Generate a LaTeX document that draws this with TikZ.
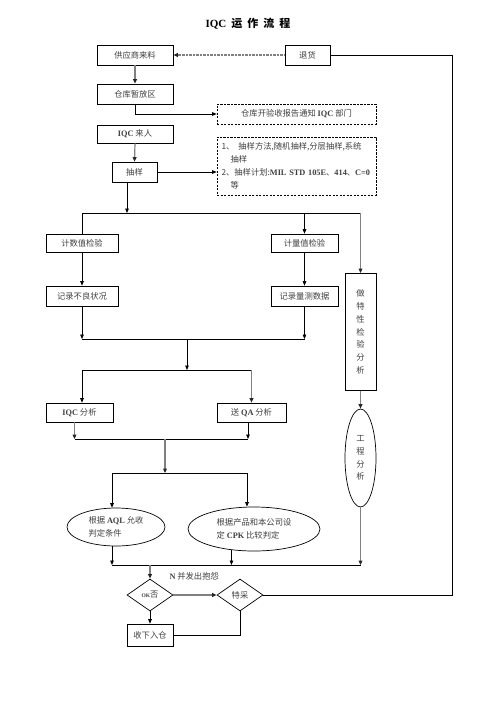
\documentclass[tikz,border=0pt]{standalone}
\usepackage{fontspec}
\setmainfont{Noto Sans CJK SC}
\newfontfamily\enfont{Liberation Serif}
\usetikzlibrary{arrows.meta,shapes.geometric}
\newcommand\en[1]{{\enfont\bfseries #1}}
\begin{document}
\begin{tikzpicture}[x=1pt,y=-1pt,
  every node/.style={font=\fontsize{8.3}{12.8}\selectfont, text=black!75},
  box/.style={draw=black, line width=0.7pt, inner sep=0pt, align=center},
  dbox/.style={box, dash pattern=on 2.2pt off 1.3pt},
  ell/.style={ellipse, draw=black, line width=0.7pt, inner sep=0pt, align=center},
  dia/.style={diamond, draw=black, line width=0.7pt, inner sep=0pt},
  ln/.style={line width=0.7pt, draw=black},
  arr/.style={ln, -{Triangle[length=4.5pt,width=3.6pt]}},
  gln/.style={line width=1.2pt, draw=black!50},
  garr/.style={gln, -{Triangle[length=4.5pt,width=3.8pt,color=black!85,fill=black!85]}},
  dotarr/.style={line width=1.2pt, draw=black!50, dash pattern=on 0.8pt off 0.6pt, -{Triangle[length=4.5pt,width=3.8pt,color=black!85,fill=black!85]}}
]
\fill[white] (0,0) rectangle (496,702);
\useasboundingbox (0,0) rectangle (496,702);

% title
\node[font=\fontsize{11}{13}\selectfont\bfseries, text=black] (title) at (248,24) {\en{IQC}\hspace{5pt}运\hspace{5pt}作\hspace{5pt}流\hspace{5pt}程};

% nodes
\node[box, minimum width=76pt, minimum height=20pt] (supply) at (135,55) {供应商来料};
\node[box, minimum width=45pt, minimum height=20pt] (return) at (307.5,55) {退货};
\node[box, minimum width=76pt, minimum height=20pt] (store) at (135,94) {仓库暂放区};
\node[dbox, minimum width=159pt, minimum height=20pt] (notice) at (296.5,114) {仓库开验收报告通知 \en{IQC} 部门};
\node[box, minimum width=76pt, minimum height=18pt] (iqc) at (135,134) {\en{IQC} 来人};
\node[box, minimum width=45pt, minimum height=20pt] (sample) at (134.5,172) {抽样};
\node[dbox, minimum width=159pt, minimum height=58pt, align=left, text width=150pt] (plan) at (296.5,166)
  {1、\hspace{4pt}抽样方法,随机抽样,分层抽样,系统\\\hspace*{1.1em}抽样\\2、抽样计划:\en{MIL STD 105E}、\en{414}、\en{C=0}\\\hspace*{1.1em}等};
\node[box, minimum width=72pt, minimum height=18pt] (count) at (82,243) {计数值检验};
\node[box, minimum width=67pt, minimum height=18pt] (measure) at (304.5,243) {计量值检验};
\node[box, minimum width=72pt, minimum height=20pt] (rec1) at (82,296) {记录不良状况};
\node[box, minimum width=67pt, minimum height=20pt] (rec2) at (304.5,296) {记录量测数据};
\node[box, minimum width=31pt, minimum height=117pt, anchor=north] (special) at (360.5,273) {做\\特\\性\\检\\验\\分\\析};
\node[ell, minimum width=31pt, minimum height=98pt] (eng) at (360.5,458) {工\\程\\分\\析};
\node[box, minimum width=67pt, minimum height=19pt] (iqca) at (79.5,412.5) {\en{IQC} 分析};
\node[box, minimum width=69pt, minimum height=19pt] (qa) at (251.5,412.5) {送 \en{QA} 分析};
\node[ell, align=left, minimum width=98pt, minimum height=38pt] (aql) at (116,527) {根据 \en{AQL} 允收\\判定条件};
\node[ell, align=left, minimum width=132pt, minimum height=44pt] (cpk) at (254,529) {根据产品和本公司设\\定 \en{CPK} 比较判定};
\node[dia, minimum width=46pt, minimum height=32pt] (ok) at (150,595) {{\enfont\bfseries\fontsize{5.5}{6}\selectfont OK}否};
\node[dia, minimum width=46pt, minimum height=32pt] (spec) at (240,595) {特采};
\node[box, minimum width=46pt, minimum height=22pt] (accept) at (150,635) {收下入仓};
\node[anchor=west] (nlabel) at (166,576) {\en{N} 并发出抱怨};

% coordinates
\coordinate (rt) at (452,55);
\coordinate (b1) at (127,213);
\coordinate (b1r) at (360.5,213);
\coordinate (b2) at (187,339);
\coordinate (b3) at (187,370);
\coordinate (b4) at (165,439);
\coordinate (b5) at (165,473);
\coordinate (a1) at (112,473);
\coordinate (c1) at (247,473);
\coordinate (b6) at (150,565);

% connectors
\draw[dotarr] (return.west) -- (supply.east);
\draw[ln] (return.east) -- (rt) |- (spec.east);
\draw[garr] (supply.south) -- (store.north);
\draw[arr] (store.south) |- (notice.west);
\draw[garr] (iqc.south) -- (sample.north);
\draw[arr] (sample.east) -- (sample.east -| plan.west);
\draw[arr] (sample.south -| b1) -- (b1);
\draw[ln] (count.north) |- (b1r);
\draw[arr] (measure.north |- b1) -- (measure.north);
\draw[garr] (b1r) -- (special.north);
\draw[arr] (count.south) -- (rec1.north);
\draw[arr] (measure.south) -- (rec2.north);
\draw[garr] (special.south) -- (eng.north);

\draw[arr] (rec1.south) -- (rec1.south |- b2);
\draw[arr] (rec2.south) -- (rec2.south |- b2);
\draw[ln] (rec1.south |- b2) -- (rec2.south |- b2);
\draw[arr] (b2) -- (b3);
\draw[ln] (rec1.south |- b3) -- (qa.north |- b3);
\draw[arr] (rec1.south |- b3) -- (rec1.south |- iqca.north);
\draw[garr] (qa.north |- b3) -- (qa.north);

\draw[garr] ([xshift=-5pt]iqca.south) -- ([xshift=-5pt]iqca.south |- b4);
\draw[arr] ([xshift=-3.5pt]qa.south) -- ([xshift=-3.5pt]qa.south |- b4);
\draw[ln] ([xshift=-5pt]iqca.south |- b4) -- ([xshift=-3.5pt]qa.south |- b4);
\draw[garr] (b4) -- (b5);
\draw[ln] (a1) -- (c1);
\draw[arr] (a1) -- (a1 |- aql.north);
\draw[arr] (c1) -- (c1 |- cpk.north);

\draw[arr] (a1 |- aql.south) -- (a1 |- b6);
\draw[arr] (cpk.223) -- (cpk.223 |- b6);
\draw[garr] (eng.south) -- (eng.south |- b6);
\draw[ln] (a1 |- b6) -- (eng.south |- b6);
\draw[garr] (b6) -- (ok.north);
\draw[garr] (ok.east) -- (spec.west);
\draw[arr] (ok.south) -- (accept.north);
\draw[ln] (spec.south) |- (accept.east);
\end{tikzpicture}
\end{document}
